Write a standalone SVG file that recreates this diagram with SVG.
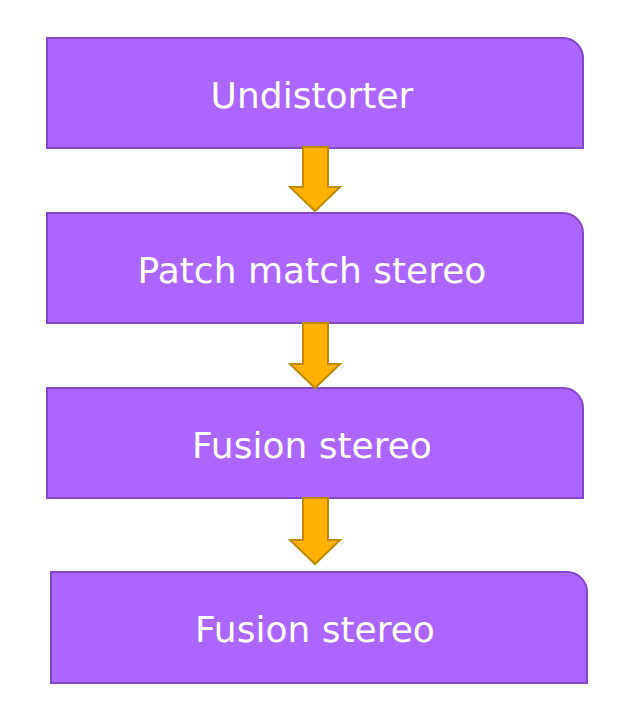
<svg xmlns="http://www.w3.org/2000/svg" width="639" height="716" viewBox="0 0 639 716">
<style>
.box{fill:#aa66ff;stroke:#8447c9;stroke-width:2}
.lbl{font-family:"DejaVu Sans",sans-serif;font-size:36px;fill:#ffffff;text-anchor:middle}
.arr{fill:#ffb300;stroke:#c08a00;stroke-width:2;stroke-linejoin:miter}
</style>
<rect width="639" height="716" fill="#ffffff"/>
<g id="node1">
<path class="box" d="M47,38 H563 A20,20 0 0 1 583,58 V148 H47 Z"/>
<text class="lbl" x="312" y="108">Undistorter</text>
</g>
<g id="node2">
<path class="box" d="M47,213 H563 A20,20 0 0 1 583,233 V323 H47 Z"/>
<text class="lbl" x="312" y="283">Patch match stereo</text>
</g>
<g id="node3">
<path class="box" d="M47,388 H563 A20,20 0 0 1 583,408 V498 H47 Z"/>
<text class="lbl" x="312" y="458">Fusion stereo</text>
</g>
<g id="node4">
<path class="box" d="M51,572 H567 A20,20 0 0 1 587,592 V683 H51 Z"/>
<text class="lbl" x="315" y="642">Fusion stereo</text>
</g>
<g id="connectors">
<path class="arr" d="M303,147 H328 V187 H340 L315,211 L290,187 H303 Z"/>
<path class="arr" d="M303,323 H328 V364 H340 L315,388 L290,364 H303 Z"/>
<path class="arr" d="M303,498 H328 V540 H340 L315,564 L290,540 H303 Z"/>
</g>
</svg>
